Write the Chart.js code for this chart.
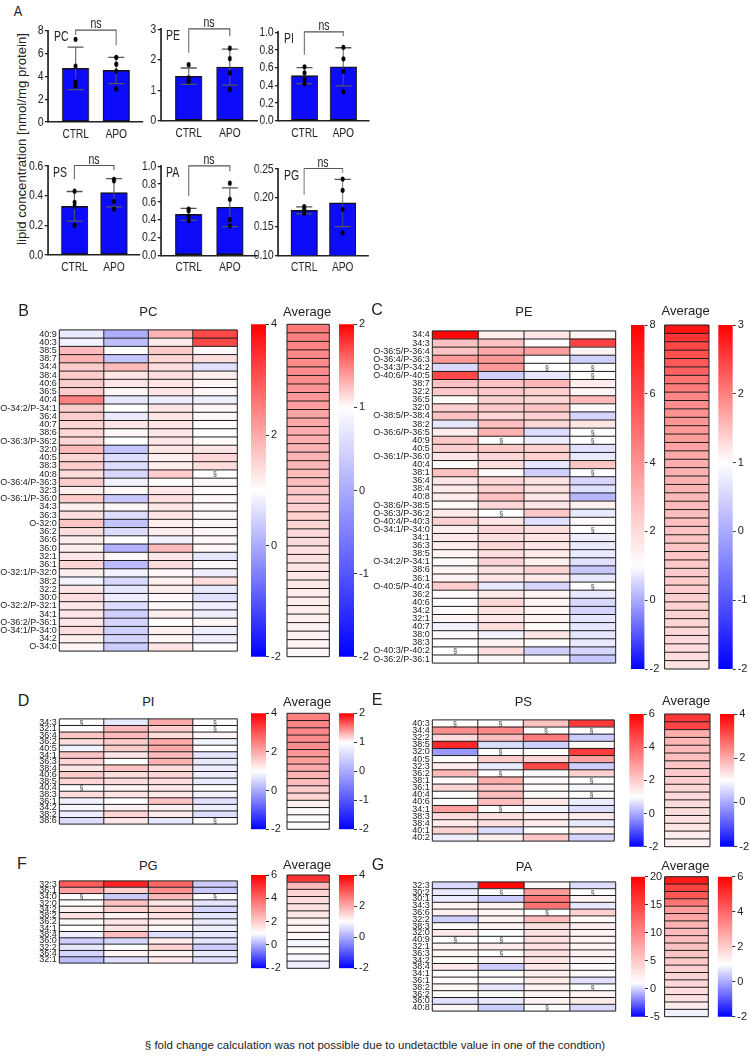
<!DOCTYPE html>
<html><head><meta charset="utf-8">
<script src="https://cdn.jsdelivr.net/npm/chart.js@4.4.1/dist/chart.umd.min.js"></script>
<style>
body{margin:0;width:750px;height:1062px;background:#fff;position:relative;overflow:hidden;font-family:"Liberation Sans",Arial,sans-serif}
.t{position:absolute;white-space:nowrap;color:#222;line-height:1}
canvas{position:absolute}
</style></head><body>
<script>
// ---------------- DATA: panel A ----------------
const groups = ['CTRL', 'APO'];
const pcPts = [[7.24, 4.9, 3.49, 3.17], [5.66, 5.07, 4.46, 2.9]];
const pcMean = [4.7, 4.52]; const pcSD = [1.86, 1.15];
const pePts = [[1.84, 1.41, 1.30, 1.30], [2.38, 2.04, 1.57, 1.03]];
const peMean = [1.46, 1.76]; const peSD = [0.27, 0.59];
const piPts = [[0.61, 0.54, 0.47, 0.42], [0.83, 0.70, 0.56, 0.33]];
const piMean = [0.51, 0.61]; const piSD = [0.09, 0.215];
const psPts = [[0.43, 0.355, 0.33, 0.20], [0.51, 0.50, 0.36, 0.31]];
const psMean = [0.328, 0.42]; const psSD = [0.10, 0.095];
const paPts = [[0.52, 0.50, 0.44, 0.39], [0.81, 0.63, 0.40, 0.33]];
const paMean = [0.46, 0.54]; const paSD = [0.068, 0.218];
const pgPts = [[0.1845, 0.180, 0.177, 0.173], [0.2326, 0.213, 0.180, 0.139]];
const pgMean = [0.178, 0.191]; const pgSD = [0.006, 0.041];
const pcTicks = [0, 8, 2, 0], peTicks = [0, 3, 1, 0], piTicks = [0, 1, 0.2, 1];
const psTicks = [0, 0.6, 0.2, 1], paTicks = [0, 1, 0.2, 1], pgTicks = [0.10, 0.25, 0.05, 2];

// ---------------- DATA: heatmaps (fold change; null = §) ----------------
const pcLipids = ['40:9','40:3','38:5','38:7','34:4','38:4','40:6','36:5','40:4','O-34:2/P-34:1','36:4','40:7','38:6','O-36:3/P-36:2','32:0','40:5','38:3','40:8','O-36:4/P-36:3','32:3','O-36:1/P-36:0','34:3','36:3','O-32:0','36:2','36:6','36:0','32:1','36:1','O-32:1/P-32:0','38:2','32:2','30:0','O-32:2/P-32:1','34:1','O-36:2/P-36:1','O-34:1/P-34:0','34:2','O-34:0'];
const pcFold = [
[0.75,0.05,1.9,3.15],[0.85,0.25,1.25,3.15],[1.8,1.0,1.6,1.1],[1.9,0.3,1.5,1.4],[1.6,1.8,1.4,0.65],
[1.6,1.3,1.4,1.2],[1.6,1.3,1.3,1.1],[1.6,1.1,1.3,1.1],[2.5,0.7,0.8,0.8],[1.6,1.0,1.3,1.1],
[1.6,0.75,1.3,1.1],[1.5,1.3,1.3,1.05],[1.5,1.1,1.3,1.0],[1.5,1.0,1.3,1.05],[1.8,0.3,1.3,1.3],
[1.5,0.6,1.2,1.5],[1.6,0.6,1.2,1.4],[1.4,0.55,1.6,null],[1.6,0.85,1.0,1.1],[1.2,1.1,1.3,1.05],
[1.6,0.35,1.4,1.1],[1.2,1.1,1.3,1.1],[1.4,0.6,1.3,1.1],[1.7,0.3,1.2,1.1],[1.4,0.6,1.2,1.1],
[1.2,1.0,0.85,1.1],[1.2,0.1,1.8,1.1],[1.3,1.1,1.3,0.7],[1.5,0.2,1.4,1.1],[1.2,0.85,1.1,0.8],
[0.85,0.55,1.2,1.4],[1.3,0.7,1.2,0.75],[1.4,0.8,1.1,0.65],[1.3,0.6,1.1,0.8],[1.3,0.45,1.2,0.8],
[1.3,0.5,1.0,1.1],[1.4,0.45,1.2,0.8],[1.2,0.5,1.1,0.8],[1.1,0.4,1.3,1.0]];
const pcAvg = [1.52,1.5,1.48,1.47,1.46,1.45,1.44,1.42,1.4,1.38,1.36,1.35,1.33,1.32,1.3,1.29,1.28,1.27,1.25,1.22,1.2,1.19,1.18,1.16,1.15,1.14,1.13,1.12,1.11,1.1,1.09,1.08,1.07,1.07,1.06,1.05,1.05,1.04,1.03];

const peLipids = ['34:4','34:3','O-36:5/P-36:4','O-36:4/P-36:3','O-34:3/P-34:2','O-40:6/P-40:5','38:7','32:2','36:5','32:0','O-38:5/P-38:4','38:2','O-36:6/P-36:5','40:9','40:5','O-36:1/P-36:0','40:4','38:1','36:4','38:4','40:8','O-38:6/P-38:5','O-36:3/P-36:2','O-40:4/P-40:3','O-34:1/P-34:0','34:1','36:3','38:5','O-34:2/P-34:1','38:6','36:1','O-40:5/P-40:4','36:2','40:6','34:2','32:1','40:7','38:0','38:3','O-40:3/P-40:2','O-36:2/P-36:1'];
const peFold = [
[7.8,1.5,1.7,1.3],[2.7,2.7,1.05,6.2],[2.6,3.4,3.6,1.3],[3.8,3.8,1.05,0.45],[0.55,3.8,null,null],
[6.0,0.45,0.7,null],[2.7,2.7,3.0,1.5],[2.5,2.5,2.3,1.3],[1.1,2.3,2.1,2.9],[2.3,2.5,2.6,1.1],
[2.7,2.1,2.3,0.5],[0.7,2.7,2.1,1.7],[1.5,3.1,0.6,null],[2.5,null,0.8,null],[2.3,2.5,2.3,0.65],
[1.7,2.1,2.3,0.75],[1.1,1.9,0.7,2.6],[2.7,1.2,0.45,null],[1.7,2.1,1.8,0.5],[1.6,2.3,1.8,0.65],
[1.5,2.7,1.7,0.15],[1.2,2.1,1.7,1.4],[1.6,null,2.5,0.75],[2.3,1.7,0.65,1.2],[1.4,2.1,1.9,null],
[1.6,1.9,1.8,0.8],[1.5,2.1,1.7,0.75],[1.3,1.9,1.6,0.75],[1.1,2.2,1.4,0.65],[1.3,1.8,2.2,0.35],
[1.3,1.7,1.6,0.75],[2.4,0.75,0.5,null],[1.1,1.6,1.3,0.75],[1.05,2.1,1.3,0.55],[1.1,1.8,1.3,0.5],
[1.3,1.7,1.3,0.7],[0.85,1.9,1.1,0.7],[1.1,0.85,1.7,0.7],[1.05,1.3,1.1,0.75],[null,1.9,0.45,0.5],
[1.05,1.2,1.1,0.35]];
const peAvg = [2.85,2.6,2.45,2.38,2.3,2.25,2.1,2.02,1.95,1.9,1.86,1.83,1.8,1.77,1.72,1.68,1.65,1.62,1.6,1.58,1.55,1.53,1.51,1.5,1.48,1.47,1.46,1.45,1.43,1.42,1.4,1.39,1.37,1.36,1.35,1.33,1.31,1.3,1.28,1.27,1.22];

const piLipids = ['34:3','32:1','36:4','36:2','40:5','34:1','36:3','38:4','40:6','38:5','40:4','38:3','36:1','34:2','38:2','38:6'];
const piFold = [
[null,0.75,2.0,null],[1.05,1.8,1.6,null],[1.7,1.8,1.4,1.1],[1.4,1.6,2.0,0.85],[0.85,1.6,2.0,1.0],
[1.7,1.3,1.8,0.7],[1.5,1.0,1.9,0.75],[1.3,1.7,1.4,0.8],[1.6,1.4,1.5,0.8],[1.5,1.4,1.4,0.75],
[null,1.15,1.25,1.0],[1.4,1.3,1.25,0.85],[0.85,1.0,1.7,0.65],[0.9,1.15,1.15,0.8],[0.8,1.5,1.25,0.6],
[0.6,1.3,0.7,null]];
const piAvg = [1.5,1.48,1.47,1.45,1.44,1.4,1.38,1.33,1.3,1.27,1.2,1.17,1.06,1.02,1.01,0.95];

const psLipids = ['40:3','34:4','32:2','38:5','32:0','40:5','32:3','36:2','38:1','36:1','40:4','40:6','34:1','38:3','38:4','40:1','40:2'];
const psFold = [
[null,null,2.2,4.9],[3.2,3.3,null,null],[1.7,2.3,3.6,0.4],[5.2,0.6,0.45,1.1],[-0.2,null,1.05,4.8],
[1.1,2.0,1.8,2.8],[1.4,0.75,4.6,0.45],[2.4,null,1.1,1.9],[1.1,2.6,1.1,null],[1.8,2.1,1.1,0.9],
[1.05,2.3,1.1,null],[1.0,2.3,1.5,0.8],[2.9,null,0.85,0.6],[1.7,1.6,1.4,1.4],[1.4,1.6,1.4,0.75],
[1.9,0.6,1.0,1.3],[0.8,1.3,2.1,0.5]];
const psAvg = [3.35,3.2,1.95,1.85,1.8,1.75,1.7,1.62,1.58,1.5,1.45,1.42,1.4,1.35,1.3,1.22,1.15];

const pgLipids = ['32:3','36:1','34:0','32:0','34:2','38:2','36:2','34:1','38:4','36:0','32:2','36:4','32:1'];
const pgFold = [
[4.2,5.3,4.0,0.4],[2.8,1.9,3.2,0.35],[null,0.4,2.4,null],[1.05,2.2,1.5,0.7],[1.3,1.9,1.8,0.5],
[1.6,1.3,1.6,0.7],[1.1,1.5,1.3,0.75],[1.0,1.5,1.1,0.8],[0.8,2.3,0.6,0.7],[0.4,0.5,1.4,0.7],
[0.7,1.0,1.9,0.4],[0.5,1.2,1.2,0.75],[0.25,0.65,1.4,0.65]];
const pgAvg = [3.4,1.8,1.5,1.4,1.35,1.3,1.17,1.12,1.08,0.9,1.0,0.92,0.8];

const paLipids = ['32:3','30:2','30:1','34:3','36:6','32:2','38:3','32:0','40:9','32:1','36:3','34:2','38:4','34:1','36:1','38:2','36:2','36:0','40:8'];
const paFold = [
[0.1,19.5,1.6,0.2],[0.5,null,8.6,null],[0.5,-0.2,11,1.8],[1.8,2.0,11.5,0.5],[2.2,1.6,null,4.5],
[-0.1,2.0,6.0,1.4],[1.3,1.9,3.3,2.4],[2.6,1.1,3.4,1.8],[null,null,3.4,1.8],[1.9,2.4,3.2,1.8],
[1.7,null,3.3,1.9],[1.2,1.8,2.8,1.6],[2.7,-0.2,2.9,1.3],[1.15,1.2,2.2,1.5],[1.3,1.3,2.7,0.3],
[1.7,0.4,2.0,null],[1.3,1.2,2.0,1.8],[0.3,0.5,1.9,2.6],[1.7,-0.2,null,0.1]];
const paAvg = [5.5,4.7,4.3,3.7,2.9,2.7,2.5,2.35,2.25,2.2,2.15,2.05,1.95,1.85,1.75,1.65,1.55,1.4,0.85];

const pcScale = [-2, 4, 2], pcAvgScale = [-2, 2, 1];
const peScale = [-2, 8, 2], peAvgScale = [-2, 3, 1];
const piScale = [-2, 4, 2], piAvgScale = [-2, 2, 1];
const psScale = [-2, 6, 2], psAvgScale = [-2, 4, 2];
const pgScale = [-2, 6, 2], pgAvgScale = [-2, 4, 2];
const paScale = [-5, 20, 5], paAvgScale = [-2, 6, 2];

// ---------------- helpers ----------------
const FONT = '"Liberation Sans", Arial, sans-serif';
const SX = 0.75; // horizontal squeeze of panel A (reference is horizontally compressed)

function T(text, x, y, size, opt = {}) {
  const d = document.createElement('div');
  d.className = 't';
  d.textContent = text;
  d.style.left = x + 'px'; d.style.top = y + 'px';
  d.style.fontSize = size + 'px';
  d.style.fontFamily = FONT;
  const ax = opt.align === 'left' ? '0' : '-50%';
  let tf = `translate(${ax},-50%)`;
  if (opt.sx) tf += ` scaleX(${opt.sx})`;
  if (opt.rot) tf += ` rotate(${opt.rot}deg)`;
  d.style.transform = tf;
  if (opt.align === 'left') d.style.transformOrigin = '0 50%';
  document.body.appendChild(d);
  return d;
}
function mkCanvas(x, y, w, h, sx) {
  const c = document.createElement('canvas');
  c.width = w; c.height = h;
  c.style.left = x + 'px'; c.style.top = y + 'px';
  c.style.width = w + 'px'; c.style.height = h + 'px';
  if (sx) { c.style.transformOrigin = '0 0'; c.style.transform = `scaleX(${sx})`; }
  document.body.appendChild(c);
  return c;
}
function heatColor(v, min, max) {
  if (v === null || v === undefined) return '#ffffff';
  let r, g, b;
  if (v >= 1) { const t = Math.min(1, (v - 1) / (max - 1)); r = 255; g = b = Math.round(255 * (1 - t)); }
  else { const t = Math.min(1, (1 - v) / (1 - min)); r = g = Math.round(255 * (1 - t)); b = 255; }
  return `rgb(${r},${g},${b})`;
}

const gridPlugin = {
  id: 'hmgrid',
  afterDatasetsDraw(chart) {
    const { ctx, chartArea: a, scales: { x } } = chart;
    const n = chart.data.labels.length, cols = chart.data.datasets.length;
    const rh = (a.bottom - a.top) / n;
    ctx.save();
    ctx.strokeStyle = '#1c1c1c'; ctx.lineWidth = 1;
    ctx.beginPath();
    for (let i = 0; i <= n; i++) { const yy = a.top + i * rh; ctx.moveTo(a.left, yy); ctx.lineTo(a.right, yy); }
    for (let j = 0; j <= cols; j++) { const xx = x.getPixelForValue(j); ctx.moveTo(xx, a.top); ctx.lineTo(xx, a.bottom); }
    ctx.stroke();
    ctx.fillStyle = '#333'; ctx.font = '7px ' + FONT; ctx.textAlign = 'center'; ctx.textBaseline = 'middle';
    chart.data.datasets.forEach((ds, j) => {
      ds.vals.forEach((v, i) => {
        if (v === null) ctx.fillText('§', (x.getPixelForValue(j) + x.getPixelForValue(j + 1)) / 2, a.top + (i + 0.5) * rh + 0.5);
      });
    });
    ctx.restore();
  }
};

function heatmap(g, labels, values, scale, showLabels) {
  const [min, max] = scale;
  const cols = values[0].length;
  const L = Math.floor(showLabels ? g.x0 - 62 : g.x0 - 2);
  const Tp = Math.floor(g.y0) - 2;
  const R = Math.ceil(g.x1) + 2, B = Math.ceil(g.y1) + 2;
  const cv = mkCanvas(L, Tp, R - L, B - Tp);
  const axisW = g.x0 - L;
  new Chart(cv, {
    type: 'bar',
    data: {
      labels,
      datasets: Array.from({ length: cols }, (_, ci) => ({
        data: labels.map(() => [ci, ci + 1]),
        vals: values.map(r => r[ci]),
        backgroundColor: values.map(r => heatColor(r[ci], min, max)),
        borderWidth: 0, grouped: false, barPercentage: 1, categoryPercentage: 1
      }))
    },
    options: {
      indexAxis: 'y', responsive: false, animation: false, events: [],
      layout: { padding: { left: showLabels ? 0 : axisW, top: g.y0 - Tp, right: R - g.x1, bottom: B - g.y1 } },
      plugins: { legend: { display: false }, tooltip: { enabled: false } },
      scales: {
        x: { type: 'linear', min: 0, max: cols, display: false },
        y: {
          type: 'category', display: showLabels,
          grid: { display: false, drawTicks: false }, border: { display: false },
          ticks: { autoSkip: false, font: { size: 9, family: FONT }, color: '#222', padding: 2.5 },
          afterFit(s) { s.width = axisW; }
        }
      }
    },
    plugins: [gridPlugin]
  });
}

function colorbar(g, scale) {
  const [min, max, step] = scale;
  const L = Math.floor(g.x0) - 1, Tp = Math.floor(g.y0) - 9, W = 36;
  const H = Math.ceil(g.y1) + 9 - Tp;
  const cv = mkCanvas(L, Tp, W, H);
  const padL = g.x0 - L;
  new Chart(cv, {
    type: 'bar',
    data: {
      labels: [''],
      datasets: [{
        data: [[min, max]], barPercentage: 1, categoryPercentage: 1, borderWidth: 0,
        backgroundColor(c) {
          const ch = c.chart, a = ch.chartArea;
          if (!a) return '#fff';
          const gr = ch.ctx.createLinearGradient(0, a.bottom, 0, a.top);
          gr.addColorStop(0, 'rgb(0,0,255)');
          gr.addColorStop((1 - min) / (max - min), '#ffffff');
          gr.addColorStop(1, 'rgb(255,0,0)');
          return gr;
        }
      }]
    },
    options: {
      responsive: false, animation: false, events: [],
      layout: { padding: { left: padL, top: g.y0 - Tp, bottom: Tp + H - g.y1, right: 0 } },
      plugins: { legend: { display: false }, tooltip: { enabled: false } },
      scales: {
        x: { display: false },
        y: {
          position: 'right', min, max,
          ticks: { stepSize: step, autoSkip: false, font: { size: 11, family: FONT }, color: '#222', padding: 2 },
          grid: { drawOnChartArea: false, tickLength: 3, color: '#333' },
          border: { display: false },
          afterFit(s) { s.width = W - padL - (g.x1 - g.x0); }
        }
      }
    }
  });
}

const errPlugin = {
  id: 'errb',
  afterDatasetDraw(chart, args) {
    if (args.index !== 0) return;
    const ds = chart.data.datasets[0];
    const { ctx, scales: { x, y } } = chart;
    const cap = 8 / SX;
    ctx.save(); ctx.strokeStyle = '#555'; ctx.lineWidth = 1.3;
    ds.data.forEach((d, i) => {
      const sd = ds.sd[i];
      const px = x.getPixelForValue(d.x);
      const yt = y.getPixelForValue(d.y + sd), yb = y.getPixelForValue(d.y - sd);
      ctx.beginPath();
      ctx.moveTo(px, yt); ctx.lineTo(px, yb);
      ctx.moveTo(px - cap, yt); ctx.lineTo(px + cap, yt);
      ctx.moveTo(px - cap, yb); ctx.lineTo(px + cap, yb);
      ctx.stroke();
    });
    ctx.restore();
  },
  afterDraw(chart) {
    const { ctx, chartArea: a, scales: { x, y } } = chart;
    const ds = chart.data.datasets[0], pts = chart.data.datasets[1].data;
    const by = a.top - 0.5;
    ctx.save(); ctx.strokeStyle = '#555'; ctx.lineWidth = 1.2;
    ctx.beginPath();
    [0, 1].forEach(i => {
      const gmax = Math.max(ds.data[i].y + ds.sd[i], ...pts.filter(p => p.x === i).map(p => p.y));
      const end = Math.max(a.top + 4, y.getPixelForValue(gmax) - 12);
      const px = x.getPixelForValue(i);
      if (i === 0) { ctx.moveTo(px, end); ctx.lineTo(px, by); }
      else { ctx.lineTo(px, by); ctx.lineTo(px, end); }
    });
    ctx.stroke();
    ctx.restore();
  }
};

function barPanel(name, g, pts, mean, sd, tk) {
  const [min, max, step, dec] = tk;
  const L = Math.round(g.left) - 30, Tp = Math.round(g.top) - 24;
  const R = Math.round(g.right) + 4, B = Math.round(g.bottom) + 22;
  const Wi = Math.round((R - L) / SX);
  const cv = mkCanvas(L, Tp, Wi, B - Tp, SX);
  const axisW = (g.left - L) / SX;
  const padR = Wi - (g.right - L) / SX;
  const scatter = [];
  pts.forEach((arr, i) => arr.forEach(v => scatter.push({ x: i, y: v })));
  new Chart(cv, {
    type: 'bar',
    data: {
      datasets: [
        { type: 'bar', data: mean.map((m, i) => ({ x: i, y: m })), sd, backgroundColor: 'rgb(12,12,250)',
          borderColor: '#111', borderWidth: 1.4, borderSkipped: false, barThickness: 26.5 / SX, order: 2 },
        { type: 'scatter', data: scatter, pointRadius: 2.6, pointBackgroundColor: '#000', pointBorderWidth: 0, order: 1 }
      ]
    },
    options: {
      responsive: false, animation: false, events: [],
      layout: { padding: { left: 0, top: g.top - Tp, right: padR, bottom: 0 } },
      plugins: { legend: { display: false }, tooltip: { enabled: false } },
      scales: {
        x: {
          type: 'linear', min: -0.68, max: 1.66, offset: false,
          grid: { display: false, drawTicks: false }, border: { color: '#222', width: 1.5 },
          afterBuildTicks(s) { s.ticks = [{ value: 0 }, { value: 1 }]; },
          ticks: { autoSkip: false, maxRotation: 0, callback: v => groups[v], font: { size: 13.5, family: FONT }, color: '#222', padding: 4 },
          afterFit(s) { s.height = B - g.bottom; }
        },
        y: {
          min, max,
          ticks: { stepSize: step, autoSkip: false, callback: v => (+v).toFixed(dec), font: { size: 13.5, family: FONT }, color: '#222', padding: 2 },
          grid: { drawOnChartArea: false, tickLength: 3 / SX, color: '#222', lineWidth: 1.3 }, border: { color: '#222', width: 1.5 / SX },
          afterFit(s) { s.width = axisW; }
        }
      }
    },
    plugins: [errPlugin]
  });
  T(name, g.left + 5.5, g.top + 5.5, 14, { sx: SX, align: 'left' });
  const xs = (v) => g.left + (v + 0.68) / 2.34 * (g.right - g.left);
  T('ns', (xs(0) + xs(1)) / 2, g.top - 7.5, 14, { sx: SX });
}

// ---------------- PANEL A ----------------
T('A', 17.5, 10, 15, { sx: 0.85 });
T('lipid  concentration [nmol/mg protein]', 21.5, 139, 13.2, { sx: 0.92, rot: -90 });
barPanel('PC', { left: 48, right: 143, top: 30.7, bottom: 122 }, pcPts, pcMean, pcSD, pcTicks);
barPanel('PE', { left: 160.7, right: 257, top: 29.3, bottom: 120.7 }, pePts, peMean, peSD, peTicks);
barPanel('PI', { left: 278, right: 369, top: 32.3, bottom: 120.7 }, piPts, piMean, piSD, piTicks);
barPanel('PS', { left: 47.7, right: 140, top: 166, bottom: 255 }, psPts, psMean, psSD, psTicks);
barPanel('PA', { left: 160.7, right: 257, top: 166.3, bottom: 255.3 }, paPts, paMean, paSD, paTicks);
barPanel('PG', { left: 278, right: 368, top: 169, bottom: 255.3 }, pgPts, pgMean, pgSD, pgTicks);

// ---------------- HEATMAP PANELS ----------------
function hmPanel(letter, lx, name, g, cb, avg, cb2, labels, vals, avgVals, sc, avgSc, ty) {
  T(letter, lx, ty, 16);
  T(name, (g.x0 + g.x1) / 2, ty + 0.5, 13);
  T('Average', (avg.x0 + avg.x1) / 2, ty, 13);
  heatmap(g, labels, vals, sc, true);
  colorbar({ x0: cb[0], x1: cb[1], y0: g.y0, y1: g.y1 }, sc);
  heatmap({ x0: avg.x0, x1: avg.x1, y0: g.y0, y1: g.y1 }, labels, avgVals.map(v => [v]), avgSc, false);
  colorbar({ x0: cb2[0], x1: cb2[1], y0: g.y0, y1: g.y1 }, avgSc);
}
hmPanel('B', 23.5, 'PC', { x0: 59.3, x1: 237.3, y0: 324.3, y1: 656.7 }, [251, 266], { x0: 285, x1: 329.3 }, [339, 354],
  pcLipids, pcFold, pcAvg, pcScale, pcAvgScale, 310.5);
hmPanel('C', 377, 'PE', { x0: 432.3, x1: 615.7, y0: 325, y1: 669 }, [631, 644.5], { x0: 662.3, x1: 709 }, [718.3, 732.7],
  peLipids, peFold, peAvg, peScale, peAvgScale, 310);
hmPanel('D', 23.5, 'PI', { x0: 59.3, x1: 237.3, y0: 713.3, y1: 829.3 }, [251, 266], { x0: 285, x1: 329.3 }, [339, 354],
  piLipids, piFold, piAvg, piScale, piAvgScale, 700.5);
hmPanel('E', 377, 'PS', { x0: 432.3, x1: 614.3, y0: 714, y1: 846.7 }, [629.3, 643.7], { x0: 662.3, x1: 710 }, [720, 734.3],
  psLipids, psFold, psAvg, psScale, psAvgScale, 700);
hmPanel('F', 22, 'PG', { x0: 59.3, x1: 237.3, y0: 875, y1: 968.3 }, [251, 266], { x0: 285, x1: 329.3 }, [339, 354],
  pgLipids, pgFold, pgAvg, pgScale, pgAvgScale, 864);
hmPanel('G', 378, 'PA', { x0: 432.3, x1: 615.7, y0: 876.7, y1: 1016.7 }, [631, 645], { x0: 662.3, x1: 708.3 }, [717.7, 732.3],
  paLipids, paFold, paAvg, paScale, paAvgScale, 865);

T('§ fold change calculation was not possible due to undetactble value in one of the condtion)', 375, 1046, 11.5);
</script>
</body></html>
